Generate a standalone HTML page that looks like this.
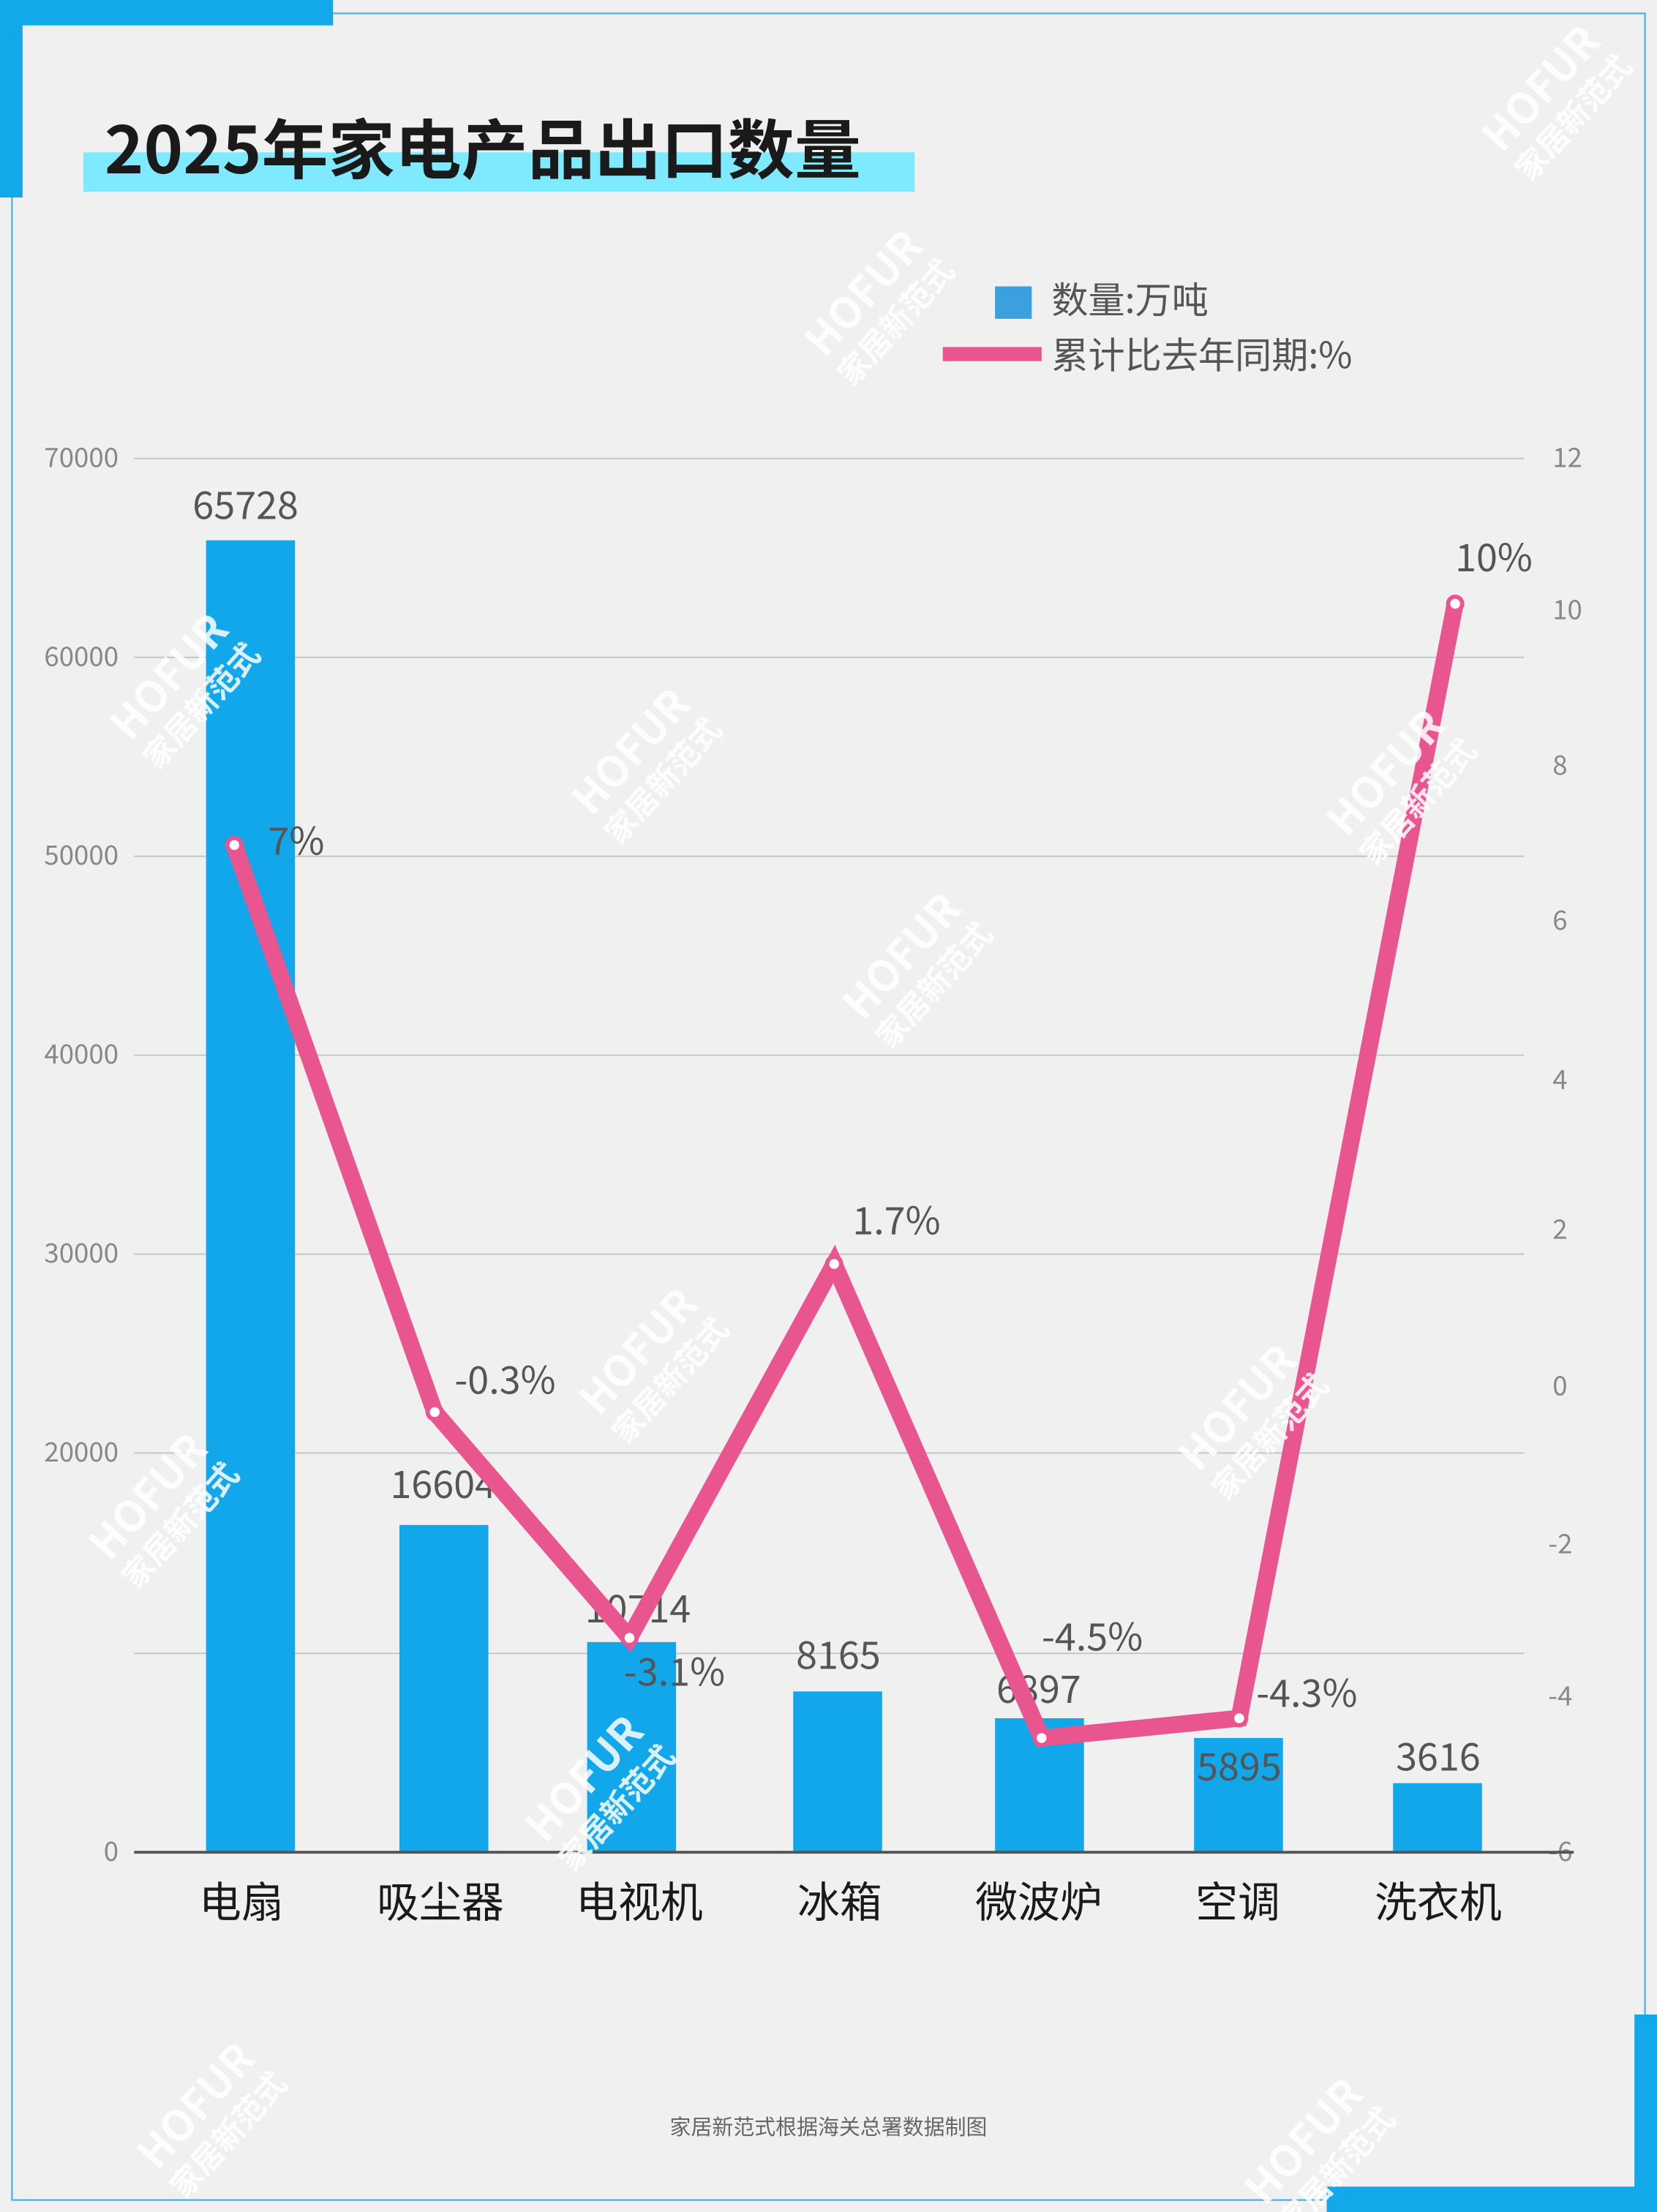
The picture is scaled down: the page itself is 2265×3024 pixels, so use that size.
<!DOCTYPE html>
<html><head><meta charset="utf-8"><style>
html,body{margin:0;padding:0;background:#f0f0f0;}
svg{display:block;}
text{font-family:"Noto Sans CJK SC","Liberation Sans",sans-serif;}
</style></head><body>
<svg width="2265" height="3024" viewBox="0 0 1174 1568" preserveAspectRatio="none" xmlns="http://www.w3.org/2000/svg">
<rect width="1174" height="1568" fill="#f0f0f0"/>
<rect x="8.5" y="9.5" width="1157" height="1550" fill="none" stroke="#4fb3ea" stroke-width="1.2"/>
<rect x="0" y="0" width="236" height="18" fill="#12a8ea"/>
<rect x="0" y="0" width="16" height="140" fill="#12a8ea"/>
<rect x="1158" y="1428" width="16" height="140" fill="#12a8ea"/>
<rect x="940" y="1550" width="234" height="18" fill="#12a8ea"/>
<rect x="59" y="108" width="589" height="28" fill="#7fe9fd"/>
<text x="74" y="123" font-size="46" font-weight="bold" fill="#1a1a1a" textLength="536" lengthAdjust="spacingAndGlyphs">2025年家电产品出口数量</text>
<!-- legend -->
<rect x="705" y="203" width="26" height="23" fill="#3aa0de"/>
<text x="745" y="222" font-size="26" fill="#555">数量:万吨</text>
<rect x="668" y="246" width="70" height="10" fill="#e9558e"/>
<text x="745" y="261" font-size="26" fill="#555">累计比去年同期:%</text>
<!-- grid -->
<g stroke="#c4c4c4" stroke-width="1">
<line x1="95" y1="325" x2="1080" y2="325"/><line x1="95" y1="466" x2="1080" y2="466"/>
<line x1="95" y1="607" x2="1080" y2="607"/><line x1="95" y1="748" x2="1080" y2="748"/>
<line x1="95" y1="889" x2="1080" y2="889"/><line x1="95" y1="1030" x2="1080" y2="1030"/>
<line x1="95" y1="1172" x2="1080" y2="1172"/>
</g>
<g font-size="19" fill="#888" text-anchor="end">
<text x="84" y="331">70000</text><text x="84" y="472">60000</text><text x="84" y="613">50000</text>
<text x="84" y="754">40000</text><text x="84" y="895">30000</text><text x="84" y="1036">20000</text>
<text x="84" y="1319">0</text>
</g>
<g font-size="19" fill="#888">
<text x="1100" y="331">12</text><text x="1100" y="439">10</text><text x="1100" y="549">8</text>
<text x="1100" y="659">6</text><text x="1100" y="772">4</text><text x="1100" y="878">2</text>
<text x="1100" y="989">0</text><text x="1097" y="1101">-2</text><text x="1097" y="1209">-4</text><text x="1097" y="1319">-6</text>
</g>
<!-- bars -->
<g fill="#12a6ea">
<rect x="146" y="383" width="63" height="930"/>
<rect x="283" y="1081" width="63" height="232"/>
<rect x="416" y="1164" width="63" height="149"/>
<rect x="562" y="1199" width="63" height="114"/>
<rect x="705" y="1218" width="63" height="95"/>
<rect x="846" y="1232" width="63" height="81"/>
<rect x="987" y="1264" width="63" height="49"/>
</g>
<line x1="95" y1="1313" x2="1115" y2="1313" stroke="#555" stroke-width="2"/>
<g font-size="30" fill="#1a1a1a" text-anchor="middle">
<text x="171" y="1359">电扇</text><text x="312" y="1359">吸尘器</text><text x="453" y="1359">电视机</text>
<text x="595" y="1359">冰箱</text><text x="736" y="1359">微波炉</text><text x="877" y="1359">空调</text><text x="1019" y="1359">洗衣机</text>
</g>
<g font-size="27" fill="#555" text-anchor="middle">
<text x="174" y="368">65728</text><text x="314" y="1062">16604</text><text x="452" y="1150">10714</text>
<text x="594" y="1183">8165</text><text x="736" y="1207">6897</text><text x="878" y="1262">5895</text><text x="1019" y="1255">3616</text>
</g>
<polyline points="166,599 308,1001 446,1161 591,896 738,1232 878,1218 1031,428" fill="none" stroke="#e9558e" stroke-width="12" stroke-linejoin="miter"/>
<g fill="#fff" stroke="#e9558e" stroke-width="3">
<circle cx="166" cy="599" r="5"/><circle cx="308" cy="1001" r="5"/><circle cx="446" cy="1161" r="5"/>
<circle cx="591" cy="896" r="5"/><circle cx="738" cy="1232" r="5"/><circle cx="878" cy="1218" r="5"/><circle cx="1031" cy="428" r="5"/>
</g>
<g font-size="27" fill="#555">
<text x="190" y="606">7%</text><text x="322" y="988">-0.3%</text><text x="442" y="1195">-3.1%</text>
<text x="604" y="875">1.7%</text><text x="738" y="1170">-4.5%</text><text x="890" y="1210">-4.3%</text><text x="1031" y="405">10%</text>
</g>
<text x="587" y="1513" font-size="15" fill="#666" text-anchor="middle">家居新范式根据海关总署数据制图</text>
<!-- watermarks -->
<g fill="#fff" opacity="0.85" font-weight="bold" text-anchor="middle">
<g transform="translate(1100,70) rotate(-48)"><text y="0" font-size="30">HOFUR</text><text y="28" font-size="22">家居新范式</text></g>
<g transform="translate(620,215) rotate(-48)"><text y="0" font-size="30">HOFUR</text><text y="28" font-size="22">家居新范式</text></g>
<g transform="translate(128,487) rotate(-48)"><text y="0" font-size="30">HOFUR</text><text y="28" font-size="22">家居新范式</text></g>
<g transform="translate(455,540) rotate(-48)"><text y="0" font-size="30">HOFUR</text><text y="28" font-size="22">家居新范式</text></g>
<g transform="translate(647,685) rotate(-48)"><text y="0" font-size="30">HOFUR</text><text y="28" font-size="22">家居新范式</text></g>
<g transform="translate(990,555) rotate(-48)"><text y="0" font-size="30">HOFUR</text><text y="28" font-size="22">家居新范式</text></g>
<g transform="translate(460,965) rotate(-48)"><text y="0" font-size="30">HOFUR</text><text y="28" font-size="22">家居新范式</text></g>
<g transform="translate(113,1068) rotate(-48)"><text y="0" font-size="30">HOFUR</text><text y="28" font-size="22">家居新范式</text></g>
<g transform="translate(885,1005) rotate(-48)"><text y="0" font-size="30">HOFUR</text><text y="28" font-size="22">家居新范式</text></g>
<g transform="translate(422,1268) rotate(-48)"><text y="0" font-size="30">HOFUR</text><text y="28" font-size="22">家居新范式</text></g>
<g transform="translate(147,1500) rotate(-48)"><text y="0" font-size="30">HOFUR</text><text y="28" font-size="22">家居新范式</text></g>
<g transform="translate(932,1525) rotate(-48)"><text y="0" font-size="30">HOFUR</text><text y="28" font-size="22">家居新范式</text></g>
</g>
</svg>
</body></html>
